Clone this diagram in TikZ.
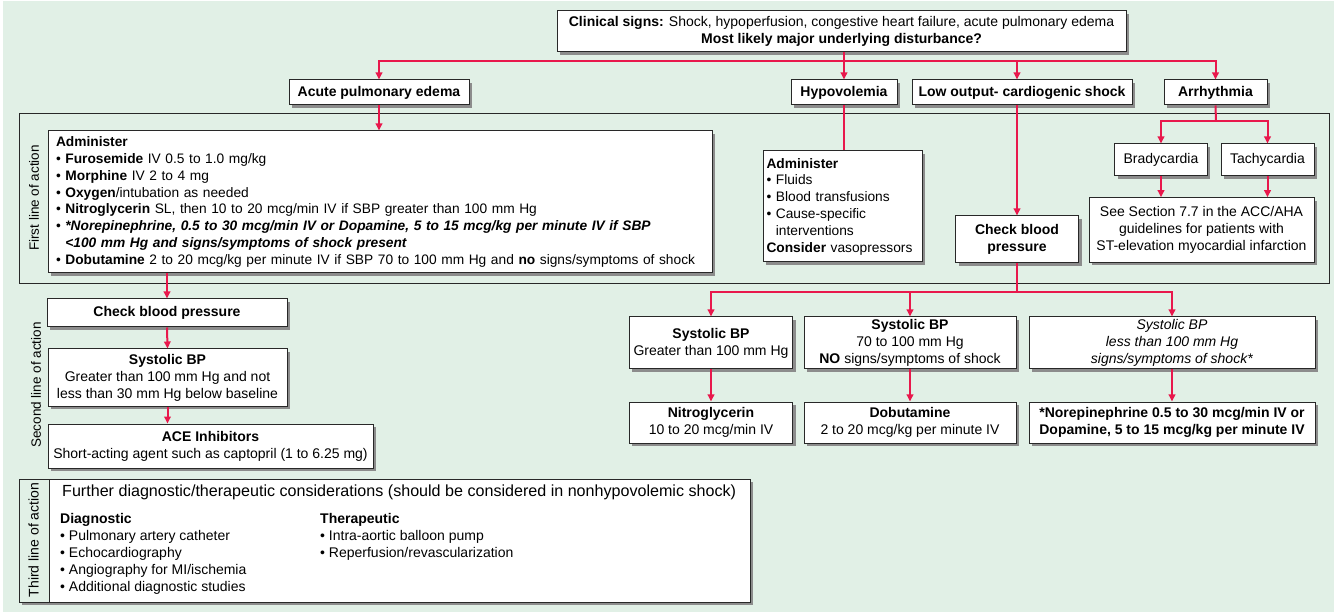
\documentclass[tikz,border=0pt]{standalone}
\usepackage{fontspec}
\setmainfont{Liberation Sans}
\usetikzlibrary{shadows,arrows.meta}
\definecolor{bg}{RGB}{225,240,230}
\definecolor{myred}{RGB}{232,24,76}
\definecolor{edge}{RGB}{40,40,40}
\hyphenpenalty=10000
\exhyphenpenalty=10000
\begin{document}
\begin{tikzpicture}[x=1pt,y=-1pt,
  box/.style={draw=edge, line width=1pt, fill=white, inner sep=0pt,
    drop shadow={shadow xshift=3pt,shadow yshift=-3pt,fill=black!45,opacity=1},
    font=\fontsize{14}{17}\selectfont, align=center},
  lbox/.style={box, align=left, font=\fontsize{13.75}{16.8}\selectfont},
  frame/.style={draw=edge, line width=0.9pt, inner sep=0pt},
  txt/.style={inner sep=0pt, font=\fontsize{14}{17}\selectfont, align=left},
  redline/.style={draw=myred, line width=2pt},
  arr/.style={redline, -{Triangle[length=7pt,width=6.5pt]}},
  side/.style={rotate=90, inner sep=0pt, font=\fontsize{13.5}{16}\selectfont}
]
\useasboundingbox (0,0) rectangle (1334,612);
\fill[bg] (3,1) rectangle (1334,612);

% first line frame
\node[frame, minimum width=1310, minimum height=170] (outer1) at (674,198) {};
\node[side] (l1) at (34,198) {First line of action};
\node[side] (l2) at (36,385) {Second line of action};

% top
\node[box, minimum width=569, minimum height=41] (clin) at (841.5,31.5)
  {\textbf{Clinical signs:} Shock, hypoperfusion, congestive heart failure, acute pulmonary edema\\
   \textbf{Most likely major underlying disturbance?}};
\node[box, minimum width=180, minimum height=25] (ape) at (379,92.5) {\textbf{Acute pulmonary edema}};
\node[box, minimum width=106, minimum height=25] (hypo) at (844,92.5) {\textbf{Hypovolemia}};
\node[box, minimum width=220, minimum height=25] (low) at (1022,92.5) {\textbf{Low output- cardiogenic shock}};
\node[box, minimum width=103, minimum height=25] (arr) at (1215.5,92.5) {\textbf{Arrhythmia}};

% first line boxes
\node[lbox, text width=648, inner xsep=8pt, minimum height=142] (adm) at (380,202)
  {\textbf{Administer}\\
   • \textbf{Furosemide} IV 0.5 to 1.0 mg/kg\\
   • \textbf{Morphine} IV 2 to 4 mg\\
   • \textbf{Oxygen}/intubation as needed\\
   • \textbf{Nitroglycerin} SL, then 10 to 20 mcg/min IV if SBP greater than 100 mm Hg\\
   • \textbf{\textit{*Norepinephrine, 0.5 to 30 mcg/min IV or Dopamine, 5 to 15 mcg/kg per minute IV if SBP}}\\
   \phantom{• }\textbf{\textit{<100 mm Hg and signs/symptoms of shock present}}\\
   • \textbf{Dobutamine} 2 to 20 mcg/kg per minute IV if SBP 70 to 100 mm Hg and \textbf{no} signs/symptoms of shock};
\node[lbox, text width=152, inner xsep=3.5pt, minimum height=111] (hadm) at (842.5,206.5)
  {\textbf{Administer}\\
   • Fluids\\
   • Blood transfusions\\
   • Cause-specific\\
   \phantom{• }interventions\\
   \textbf{Consider} vasopressors};
\node[box, minimum width=123, minimum height=47] (cbp) at (1017,239.5) {\textbf{Check blood}\\\textbf{pressure}};
\node[box, minimum width=92.5, minimum height=32] (brady) at (1161,160) {Bradycardia};
\node[box, minimum width=93, minimum height=32] (tachy) at (1267.5,160) {Tachycardia};
\node[box, minimum width=225, minimum height=64.5] (see) at (1201.5,230)
  {See Section 7.7 in the ACC/AHA\\guidelines for patients with\\ST-elevation myocardial infarction};

% second line, left
\node[box, minimum width=240, minimum height=28] (cbp2) at (167,313) {\textbf{Check blood pressure}};
\node[box, minimum width=239, minimum height=57] (sys) at (167.5,377.5)
  {\textbf{Systolic BP}\\Greater than 100 mm Hg and not\\less than 30 mm Hg below baseline};
\node[box, minimum width=325, minimum height=44] (ace) at (210.5,446)
  {\textbf{ACE Inhibitors}\\Short-acting agent such as captopril (1 to 6.25 mg)};

% second line, right
\node[box, minimum width=163.5, minimum height=52] (s1) at (711,343)
  {\textbf{Systolic BP}\\Greater than 100 mm Hg};
\node[box, minimum width=212, minimum height=52] (s2) at (910,343)
  {\textbf{Systolic BP}\\70 to 100 mm Hg\\\textbf{NO} signs/symptoms of shock};
\node[box, minimum width=286, minimum height=52] (s3) at (1172,343)
  {\textit{Systolic BP}\\\textit{less than 100 mm Hg}\\\textit{signs/symptoms of shock*}};
\node[box, minimum width=163.5, minimum height=41] (b1) at (711,422.5)
  {\textbf{Nitroglycerin}\\10 to 20 mcg/min IV};
\node[box, minimum width=212, minimum height=41] (b2) at (910,422.5)
  {\textbf{Dobutamine}\\2 to 20 mcg/kg per minute IV};
\node[box, minimum width=286, minimum height=41] (b3) at (1172,422.5)
  {\textbf{*Norepinephrine 0.5 to 30 mcg/min IV or}\\\textbf{Dopamine, 5 to 15 mcg/kg per minute IV}};

% third line
\node[box, fill=bg, minimum width=731, minimum height=123] (third) at (384.5,540.5) {};
\node[frame, line width=1pt, fill=white, minimum width=701, minimum height=123] (thirdc) at (399.5,540.5) {};
\node[side, font=\fontsize{14}{16}\selectfont] (l3) at (33.5,540) {Third line of action};
\node[txt, anchor=west, font=\fontsize{16.1}{18}\selectfont] (ttl) at (62,492)
  {Further diagnostic/therapeutic considerations (should be considered in nonhypovolemic shock)};
\node[txt, anchor=north west] (diag) at (60,513)
  {\textbf{Diagnostic}\\
   • Pulmonary artery catheter\\
   • Echocardiography\\
   • Angiography for MI/ischemia\\
   • Additional diagnostic studies};
\node[txt, anchor=north west] (ther) at (320,513)
  {\textbf{Therapeutic}\\
   • Intra-aortic balloon pump\\
   • Reperfusion/revascularization};

% connectors
\coordinate (j1) at (844,61);
\draw[redline] (clin.south -| j1) -- (j1);
\draw[arr] (j1) -| (ape.north);
\draw[arr] (j1) -- (hypo.north);
\draw[arr] (j1) -| ([xshift=-5pt]low.north);
\draw[arr] (j1) -| (arr.north);
\draw[arr] (ape.south) -- (ape.south |- adm.north);
\draw[redline] (hypo.south) -- (hypo.south |- hadm.north);
\draw[arr] ([xshift=-5pt]low.south) -- (cbp.north);
\coordinate (j2) at (1216,121);
\draw[redline] (arr.south) -- (j2);
\draw[arr] (j2) -| (brady.north);
\draw[arr] (j2) -| (tachy.north);
\draw[arr] (brady.south) -- (brady.south |- see.north);
\draw[arr] (tachy.south) -- (tachy.south |- see.north);
\draw[arr] (adm.south -| cbp2.north) -- (cbp2.north);
\draw[arr] (cbp2.south) -- (sys.north);
\draw[arr] (sys.south) -- (sys.south |- ace.north);
\coordinate (j3) at (1017,292);
\draw[redline] (cbp.south) -- (j3);
\draw[arr] (j3) -| (s1.north);
\draw[arr] (j3) -| (s2.north);
\draw[arr] (j3) -| (s3.north);
\draw[arr] (s1.south) -- (b1.north);
\draw[arr] (s2.south) -- (b2.north);
\draw[arr] (s3.south) -- (b3.north);
\end{tikzpicture}
\end{document}
